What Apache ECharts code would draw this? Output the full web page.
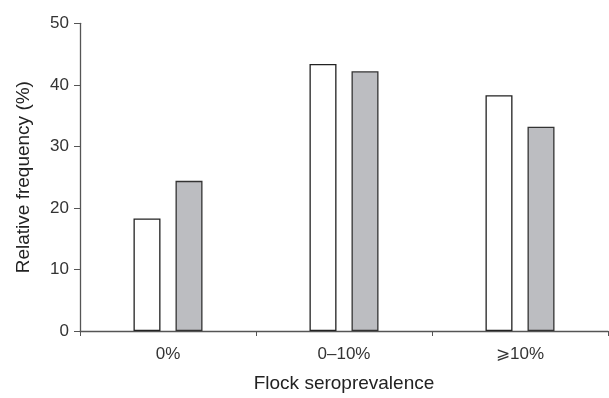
<!DOCTYPE html>
<html>
<head>
<meta charset="utf-8">
<script src="https://cdn.jsdelivr.net/npm/echarts@6/dist/echarts.min.js"></script>
<style>html,body{margin:0;padding:0;background:#fff}#c{width:609px;height:398px}</style>
</head>
<body>
<div id="c"></div>
<script>
const categories = ['0%', '0–10%', '⩾10%'];
const seriesA = [18.3, 43.4, 38.3];
const seriesB = [24.4, 42.2, 33.2];
const yTicks = [0, 10, 20, 30, 40, 50];

const chart = echarts.init(document.getElementById('c'), null, {renderer: 'canvas'});
const font = 'Liberation Sans, Arial, sans-serif';
chart.setOption({
  animation: false,
  backgroundColor: '#fff',
  grid: {left: 80, right: 1, top: 23.3, bottom: 62.7, containLabel: false},
  xAxis: {
    type: 'category',
    data: categories,
    name: 'Flock seroprevalence',
    nameLocation: 'middle',
    nameGap: 43,
    nameTextStyle: {fontFamily: font, fontSize: 19, color: '#222'},
    axisLine: {lineStyle: {color: '#555', width: 1.3}},
    axisTick: {show: true, length: 5, lineStyle: {color: '#555'}},
    axisLabel: {fontFamily: font, fontSize: 17, color: '#333', margin: 15},
    splitLine: {show: false}
  },
  yAxis: {
    type: 'value',
    min: yTicks[0],
    max: yTicks[yTicks.length - 1],
    interval: 10,
    name: 'Relative frequency (%)',
    nameLocation: 'middle',
    nameGap: 47,
    nameTextStyle: {fontFamily: font, fontSize: 19, color: '#222'},
    axisLine: {show: true, lineStyle: {color: '#555', width: 1.3}},
    axisTick: {show: true, length: 6, lineStyle: {color: '#555'}},
    axisLabel: {fontFamily: font, fontSize: 17, color: '#333', margin: 11},
    splitLine: {show: false}
  },
  series: [
    {type: 'bar', data: seriesA, barWidth: 27, barGap: '55.6%',
     itemStyle: {color: '#ffffff', borderColor: '#222', borderWidth: 1.3}},
    {type: 'bar', data: seriesB, barWidth: 27,
     itemStyle: {color: '#bcbdc1', borderColor: '#333', borderWidth: 1.3}}
  ]
});
</script>
</body>
</html>
